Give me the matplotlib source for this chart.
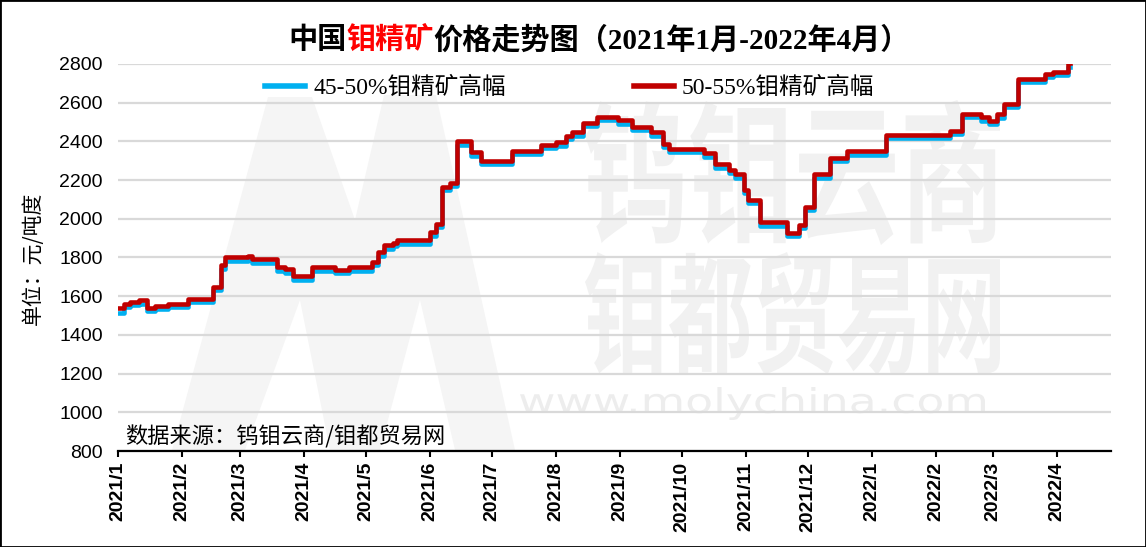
import numpy as np
import matplotlib
matplotlib.use("Agg")
import matplotlib.pyplot as plt
from matplotlib.textpath import TextPath
from matplotlib.font_manager import FontProperties
from matplotlib.patches import PathPatch, Polygon, Rectangle
from matplotlib.transforms import Affine2D
from matplotlib.lines import Line2D

# price change points (yuan / ton-degree), values hold until next date
dates = ["2021-01-01", "2021-01-04", "2021-01-07", "2021-01-11", "2021-01-15", "2021-01-19", "2021-01-25",
         "2021-02-04", "2021-02-16", "2021-02-20", "2021-02-22", "2021-03-05", "2021-03-07", "2021-03-19",
         "2021-03-23", "2021-03-27", "2021-04-05", "2021-04-16", "2021-04-23", "2021-05-04", "2021-05-07",
         "2021-05-10", "2021-05-14", "2021-05-16", "2021-06-01", "2021-06-04", "2021-06-07", "2021-06-11",
         "2021-06-14", "2021-06-21", "2021-06-26", "2021-07-11", "2021-07-25", "2021-08-01", "2021-08-06",
         "2021-08-09", "2021-08-14", "2021-08-21", "2021-08-31", "2021-09-07", "2021-09-16", "2021-09-22",
         "2021-09-25", "2021-10-12", "2021-10-17", "2021-10-24", "2021-10-27", "2021-10-31", "2021-11-02",
         "2021-11-08", "2021-11-21", "2021-11-27", "2021-11-30", "2021-12-04", "2021-12-12", "2021-12-20",
         "2022-01-08", "2022-02-08", "2022-02-14", "2022-02-23", "2022-02-27", "2022-03-03", "2022-03-06",
         "2022-03-13", "2022-03-26", "2022-03-30", "2022-04-06", "2022-04-07"]

high_50_55 = [1540, 1560, 1570, 1580, 1540, 1550, 1560,
              1585, 1650, 1760, 1800, 1810, 1790, 1750,
              1740, 1705, 1750, 1737, 1749, 1778, 1826,
              1863, 1877, 1890, 1930, 1975, 2165, 2185,
              2400, 2345, 2300, 2352, 2383, 2395, 2428,
              2446, 2497, 2528, 2509, 2475, 2446, 2387,
              2361, 2339, 2281, 2254, 2230, 2150, 2098,
              1982, 1928, 1970, 2063, 2230, 2315, 2349,
              2433, 2455, 2543, 2525, 2506, 2540, 2594,
              2723, 2749, 2760, 2805, 2805]

high_45_50 = [1515, 1545, 1552, 1562, 1525, 1532, 1542,
              1568, 1632, 1742, 1782, 1792, 1772, 1732,
              1722, 1685, 1732, 1720, 1731, 1760, 1808,
              1845, 1860, 1872, 1912, 1957, 2147, 2167,
              2382, 2327, 2282, 2334, 2365, 2377, 2410,
              2428, 2479, 2510, 2491, 2457, 2428, 2369,
              2343, 2321, 2263, 2236, 2212, 2132, 2080,
              1964, 1910, 1952, 2045, 2212, 2297, 2331,
              2415, 2437, 2525, 2507, 2488, 2522, 2576,
              2705, 2731, 2742, 2787, 2787]

month_ticks = ["2021-01-01", "2021-02-01", "2021-03-01", "2021-04-01", "2021-05-01", "2021-06-01",
               "2021-07-01", "2021-08-01", "2021-09-01", "2021-10-01", "2021-11-01", "2021-12-01",
               "2022-01-01", "2022-02-01", "2022-03-01", "2022-04-01"]
month_labels = ["2021/1", "2021/2", "2021/3", "2021/4", "2021/5", "2021/6", "2021/7", "2021/8",
                "2021/9", "2021/10", "2021/11", "2021/12", "2022/1", "2022/2", "2022/3", "2022/4"]
yticks = [800, 1000, 1200, 1400, 1600, 1800, 2000, 2200, 2400, 2600, 2800]

W, H = 1146, 547
fig = plt.figure(figsize=(W / 100, H / 100), dpi=100)
fig.patch.set_facecolor("white")

cjk = "Noto Sans CJK SC"
serif_mix = ["Liberation Serif", cjk]


def stamp(txt, box, color, weight="bold", family=cjk):
    # stretch a text path into a pixel box (x0, y0, x1, y1), y measured from top
    x0, y0, x1, y1 = box
    tp = TextPath((0, 0), txt, size=100, prop=FontProperties(family=family, weight=weight))
    bb = tp.get_extents()
    tr = Affine2D().translate(-bb.x0, -bb.y0).scale((x1 - x0) / bb.width, (y1 - y0) / bb.height)
    tr = tr.translate(x0, H - y1)
    p = PathPatch(tp, transform=tr, fc=color, ec="none", zorder=-2)
    fig.add_artist(p)


# watermark
m_shape = [(172, 450), (268, 97), (312, 97), (355, 220), (384, 95), (436, 95), (515, 450),
           (455, 450), (420, 300), (380, 450), (330, 450), (300, 300), (245, 450)]
fig.add_artist(Polygon([(x, H - y) for x, y in m_shape], closed=True, fc="#f5f5f5", ec="none",
                       transform=Affine2D(), zorder=-3))
stamp("钨钼云商", (585, 100, 1000, 245), "#f1f1f1")
stamp("钼都贸易网", (585, 252, 1000, 375), "#f1f1f1")
stamp("www.molychina.com", (520, 387, 985, 420), "#ededed", weight="normal", family="DejaVu Sans")

ax = fig.add_axes([118 / W, (H - 451) / H, (1111 - 118) / W, (451 - 64) / H])
ax.set_facecolor("none")

x = np.array(dates, dtype="datetime64[D]")
ax.step(x, high_45_50, where="post", color="#00B0F0", lw=3.3, zorder=3)
ax.step(x, high_50_55, where="post", color="#C00000", lw=3.3, zorder=4)

ax.set_ylim(800, 2800)
ax.set_xlim(np.datetime64("2021-01-01"), np.datetime64("2022-04-27"))
ax.set_yticks(yticks)
ax.set_yticklabels([str(v) for v in yticks], family="Liberation Sans", fontsize=14)
ax.set_xticks(np.array(month_ticks, dtype="datetime64[D]"))
ax.set_xticklabels(month_labels, rotation=90, family="Liberation Sans", fontsize=14, weight="bold")
ax.tick_params(axis="y", length=0, pad=11)
ax.tick_params(axis="x", length=4, width=1.5, pad=4, direction="out")
ax.grid(axis="y", color="#d9d9d9", lw=1.6, zorder=1)
ax.set_axisbelow(True)
for s in ["left", "right", "top"]:
    ax.spines[s].set_visible(False)
ax.spines["bottom"].set_linewidth(1.6)
ax.spines["bottom"].set_zorder(5)

handles = [Line2D([], [], color="#00B0F0", lw=4), Line2D([], [], color="#C00000", lw=4)]
fig.legend(handles, ["45-50%钼精矿高幅", "50-55%钼精矿高幅"], ncol=2, frameon=False,
           loc="center left", bbox_to_anchor=(265 / W, 1 - 88 / H), borderpad=0, borderaxespad=0,
           handlelength=1.7, handletextpad=0.35, columnspacing=5.4,
           prop=FontProperties(family=serif_mix, size=17))

# title in three colour pieces
parts = [("中国", "black"), ("钼精矿", "red"), ("价格走势图（2021年1月-2022年4月）", "black")]
fig.canvas.draw()
r = fig.canvas.get_renderer()
texts = [fig.text(0, 1 - 40 / H, s, color=c, family=serif_mix, weight="bold", fontsize=21,
                  va="center", ha="left") for s, c in parts]
widths = [t.get_window_extent(renderer=r).width for t in texts]
xpos = 599 - sum(widths) / 2
for t, w in zip(texts, widths):
    t.set_x(xpos / W)
    xpos += w

fig.text(33 / W, 1 - 258 / H, "单位：元/吨度", rotation=90, ha="center", va="center",
         family=cjk, fontsize=15)
fig.text(125 / W, 1 - 437 / H, "数据来源：钨钼云商/钼都贸易网", ha="left", va="center",
         family=cjk, fontsize=16)

fig.add_artist(Rectangle((0, 0), 1, 1, transform=fig.transFigure, fill=False, ec="black", lw=2))

fig.savefig("out.png", dpi=100)
